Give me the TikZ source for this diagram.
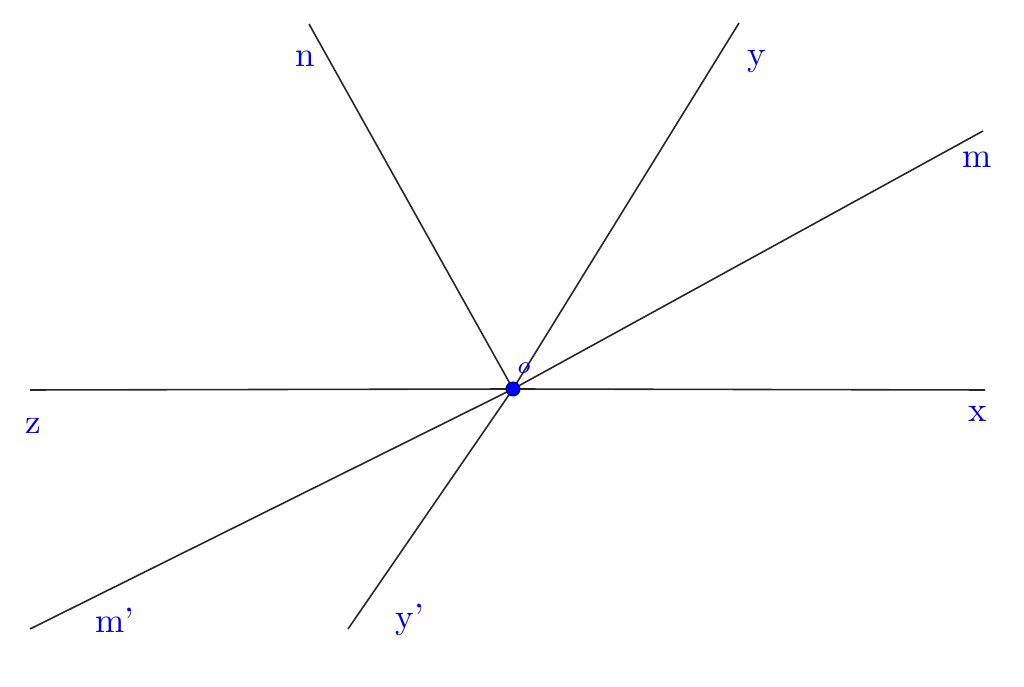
\documentclass[tikz,border=0pt]{standalone}
\usepackage{tikz}
\usetikzlibrary{positioning}

\begin{document}
\begin{tikzpicture}
    \tikzset{ray/.style={draw=black!85, line width=0.45pt},
        lbl/.style={text=blue!90!black, font=\normalsize}}
    \useasboundingbox (0, 0) rectangle (10.24, 6.87);
    \coordinate (o) at (5.13, 2.98);
    \coordinate (z) at (0.30, 2.97);
    \coordinate (x) at (9.85, 2.97);
    \coordinate (n) at (3.09, 6.63);
    \coordinate (y) at (7.39, 6.64);
    \coordinate (m) at (9.83, 5.56);
    \coordinate (m') at (0.30, 0.58);
    \coordinate (y') at (3.48, 0.58);
    \draw[ray] (z) -- (o) -- (x);
    \draw[ray] (n) -- (o);
    \draw[ray] (y) -- (o) -- (y');
    \draw[ray] (m) -- (o) -- (m');
    \node[lbl] (nl) at (3.05, 6.28) {n};
    \node[lbl] (yl) at (7.57, 6.25) {y};
    \node[lbl] (ml) at (9.77, 5.27) {m};
    \node[lbl] (xl) at (9.78, 2.73) {x};
    \node[lbl] (zl) at (0.33, 2.61) {z};
    \node[lbl] (m'l) at (1.15, 0.67) {m’};
    \node[lbl] (y'l) at (4.10, 0.67) {y’};
    \node[lbl, font=\scriptsize\itshape] (ol) at (5.23, 3.19) {o};
    \filldraw[fill=blue, draw=blue!40!black, line width=0.3pt] (o) circle (0.07);
\end{tikzpicture}
\end{document}
